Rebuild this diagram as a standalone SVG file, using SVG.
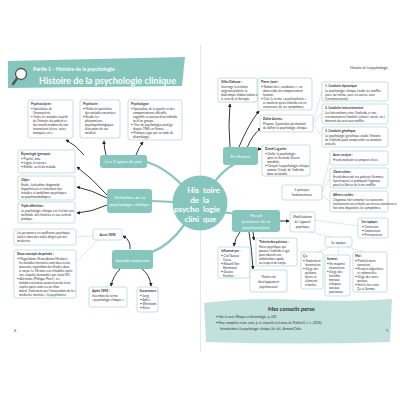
<svg xmlns="http://www.w3.org/2000/svg" width="400" height="400" viewBox="0 0 400 400">
<defs>
<marker id="ah" viewBox="0 0 6 6" refX="5" refY="3" markerWidth="4" markerHeight="4" orient="auto"><path d="M0,0 L6,3 L0,6 Z" fill="#222"/></marker>
</defs>
<style>
.box{fill:#fff;stroke:#a8d5cf;stroke-width:0.7}
.t{font-family:Lato,"Open Sans",sans-serif;font-size:3.1px;fill:#333}
.h{font-weight:700}
.pill{fill:#86c6bd}
.pt{font-family:Lato,"Open Sans",sans-serif;font-size:4.6px;fill:#fff;text-anchor:middle}
.br{fill:none;stroke:#86c6bd;stroke-width:2.2;stroke-linecap:round}
.ar{fill:none;stroke:#222;stroke-width:0.9;marker-end:url(#ah)}
.ds{fill:none;stroke:#86c6bd;stroke-width:0.6;stroke-dasharray:1.5 1.2}
.c{text-anchor:middle}
.ct{font-family:Lato,"Open Sans",sans-serif;font-size:8px;font-weight:700;fill:#fff}
</style>
<rect width="400" height="400" fill="#fff"/>
<line x1="200.5" y1="45" x2="200.5" y2="352" stroke="#e2e2e2" stroke-width="0.8"/>

<g id="header">
<path d="M8,61 L185,57 L182,86 L8,88 Z" fill="#86c6bd"/>
<circle cx="21" cy="74" r="5.5" fill="#fff" stroke="#555" stroke-width="1.3"/>
<line x1="17" y1="78.5" x2="13" y2="84" stroke="#555" stroke-width="2.4" stroke-linecap="round"/>
<text x="33" y="71" font-family="Lato,sans-serif" font-size="5.2" fill="#fff" font-weight="700">Partie 1 - Histoire de la psychologie</text>
<text x="39" y="84" font-family="Lato,sans-serif" font-size="9" fill="#fff" font-weight="700" textLength="137">Histoire de la psychologie clinique</text>
<text x="388" y="69" font-family="Lato,sans-serif" font-size="3.4" fill="#333" text-anchor="end">Histoire de la psychologie</text>
</g>

<g id="connectors">
<path class="br" d="M180,183 Q165,168 147,162"/>
<path class="br" d="M174,202 L152,201"/>
<path class="br" d="M184,225 Q170,245 152,252"/>
<path class="br" d="M216,180 Q224,170 233,165"/>
<path class="br" d="M222,212 L236,214"/>
<path class="ar" d="M84,155 Q76,145 66,140"/>
<path class="ar" d="M106,155 Q104,148 104,141"/>
<path class="ar" d="M136,155 Q139,147 143,142"/>
<path class="ar" d="M107,195 Q92,178 77,167"/>
<path class="ar" d="M107,198 Q92,190 77,187"/>
<path class="ar" d="M107,205 Q92,212 77,213"/>
<path class="ar" d="M130,249 Q131,240 123,236"/>
<path class="ar" d="M120,269 Q113,276 111,286"/>
<path class="ar" d="M142,269 Q150,275 151,286"/>
<path class="ar" d="M230,147 Q228,125 230,104"/>
<path class="ar" d="M239,147 Q248,125 259,111"/>
<path class="ar" d="M247,148 Q252,135 261,128"/>
<path class="ar" d="M255,151 Q258,149 261,149"/>
<path class="ar" d="M280,221 L289,221"/>
<path class="ar" d="M240,232 Q235,238 234,246"/>
<path class="ar" d="M253,232 L254,240"/>
<path class="ar" d="M249,232 Q252,250 253,269"/>
<path class="ds" d="M93,236 L76,237"/>
<path class="ds" d="M98,240 L76,262"/>
<path class="ds" d="M313,122 L322,91"/>
<path class="ds" d="M313,123 L322,113"/>
<path class="ds" d="M313,124 L322,137"/>
<path class="ds" d="M322,190 L330,158"/>
<path class="ds" d="M322,192 L330,178"/>
<path class="ds" d="M322,196 L330,201"/>
<path class="ds" d="M315,220 L358,226"/>
<path class="ds" d="M310,232 L330,237"/>
<path class="ds" d="M331,247 L315,253"/>
<path class="ds" d="M339,247 L338,255"/>
<path class="ds" d="M347,247 L364,252"/>
</g>

<g id="center">
<circle cx="200" cy="203" r="27.5" fill="#86c6bd"/>
<text class="ct" text-anchor="end"><tspan x="199" y="193">His</tspan><tspan x="199" y="202.5">de</tspan><tspan x="199" y="212">psycho</tspan><tspan x="199" y="221.5">clini</tspan></text>
<text class="ct"><tspan x="203" y="193">toire</tspan><tspan x="203" y="202.5">la</tspan><tspan x="203" y="212">logie</tspan><tspan x="203" y="221.5">que</tspan></text>
</g>

<g id="psychanalyste"><rect class="box" x="28" y="100" width="45" height="38" rx="2"/>
<text class="t"><tspan class="h" x="31" y="105">Psychanalyste :</tspan><tspan x="31" y="110">• Spécialiste de</tspan><tspan x="33" y="114">l'inconscient.</tspan><tspan x="31" y="118">• Traite les malades à partir</tspan><tspan x="33" y="122">de l'histoire du patient et</tspan><tspan x="33" y="126">des manifestations de son</tspan><tspan x="33" y="130">inconscient (rêves, actes</tspan><tspan x="33" y="134">manqués, etc.).</tspan></text></g>

<g id="psychiatre"><rect class="box" x="80" y="100" width="40" height="38" rx="2"/>
<text class="t"><tspan class="h" x="83" y="105">Psychiatre :</tspan><tspan x="83" y="110">• Médecin spécialiste</tspan><tspan x="85" y="114">des maladies mentales.</tspan><tspan x="83" y="118">• Étudie les</tspan><tspan x="85" y="122">phénomènes</tspan><tspan x="85" y="126">psychopathologiques</tspan><tspan x="85" y="130">d'un point de vue</tspan><tspan x="85" y="134">médical.</tspan></text></g>

<g id="psychologue"><rect class="box" x="128" y="100" width="54" height="40" rx="2"/>
<text class="t"><tspan class="h" x="131" y="105">Psychologue :</tspan><tspan x="131" y="110">• Spécialiste de la psyché et des</tspan><tspan x="133" y="114">comportements affectifs,</tspan><tspan x="133" y="118">cognitifs et sociaux d'un individu</tspan><tspan x="133" y="122">ou d'un groupe.</tspan><tspan x="131" y="126">• Titre de psychologue protégé</tspan><tspan x="133" y="130">depuis 1985 en France.</tspan><tspan x="131" y="134">• Pratique régie par un code de</tspan><tspan x="133" y="138">déontologie.</tspan></text></g>

<g id="types"><rect class="pill" x="100" y="155" width="47" height="13" rx="3"/><text class="pt" x="123.5" y="163.3">Les 3 types de psy</text></g>

<g id="etymologie"><rect class="box" x="18" y="150" width="57" height="23" rx="2"/>
<text class="t"><tspan class="h" x="21" y="155">Étymologie (grecque) :</tspan><tspan x="21" y="160">• Psyché, âme.</tspan><tspan x="21" y="164">• Logos, la science.</tspan><tspan x="21" y="168">• Klinikè, au lit du malade.</tspan></text></g>

<g id="objet"><rect class="box" x="18" y="176" width="57" height="24" rx="2"/>
<text class="t"><tspan class="h" x="21" y="181">Objet :</tspan><tspan x="21" y="186">Étude, évaluation, diagnostic</tspan><tspan x="21" y="190">(hypothèses) et traitement des</tspan><tspan x="21" y="194">troubles et problèmes psychiques</tspan><tspan x="21" y="198">ou psychosomatiques.</tspan></text></g>

<g id="triple"><rect class="box" x="18" y="202" width="57" height="21" rx="2"/>
<text class="t"><tspan class="h" x="21" y="207">Triple définition :</tspan><tspan x="21" y="212">La psychologie clinique est à la fois une</tspan><tspan x="21" y="216">méthode, des théories et une activité</tspan><tspan x="21" y="220">pratique.</tspan></text></g>

<g id="definition"><rect class="pill" x="107" y="189" width="45" height="24" rx="3"/><text class="pt"><tspan x="129.5" y="199">Définition de la</tspan><tspan x="129.5" y="205.5">psychologie clinique</tspan></text></g>

<g id="personnes"><rect class="box" x="14" y="229" width="62" height="16" rx="2"/>
<text class="t"><tspan x="17" y="234">Les personnes en souffrance psychique</tspan><tspan x="17" y="238">isolées dans des asiles dirigés par des</tspan><tspan x="17" y="242">médecins.</tspan></text></g>

<g id="concepts"><rect class="box" x="14" y="250" width="62" height="48" rx="2"/>
<text class="t"><tspan class="h" x="17" y="255">Deux concepts de pensée :</tspan><tspan x="17" y="260">• Magnétisme (Franz Anton Mesmer) :</tspan><tspan x="19" y="264">les maladies mentales sont dues à une</tspan><tspan x="19" y="268">mauvaise répartition des fluides dans</tspan><tspan x="19" y="272">le corps. Le Mesmer est réhabilité après</tspan><tspan x="19" y="276">une enquête demandée par Louis XVI.</tspan><tspan x="17" y="280">• Aliénisme (Philippe Pinel) : les</tspan><tspan x="19" y="284">malades mentaux auraient perdu leurs</tspan><tspan x="19" y="288">esprits après avoir eu un choc</tspan><tspan x="19" y="292">moral. Traitement par l'instauration de la «</tspan><tspan x="19" y="296">médecine mentale » (la psychiatrie).</tspan></text></g>

<g id="avant"><rect class="box" x="93" y="229" width="29" height="11" rx="2"/><text class="t h" x="107.5" y="236" text-anchor="middle" font-size="3.6">Avant 1890</text></g>

<g id="grands"><rect class="pill" x="112" y="250" width="41" height="19" rx="3"/><text class="pt" x="132.5" y="261.5">Grands moments</text></g>

<g id="apres"><rect class="box" x="89" y="287" width="38" height="20" rx="2"/>
<text class="t"><tspan class="h" x="92" y="292">Après 1890 :</tspan><tspan x="92" y="297">Invention du terme</tspan><tspan x="92" y="301">« psychologie clinique ».</tspan></text></g>

<g id="successeurs"><rect class="box" x="137" y="287" width="21" height="25" rx="2"/>
<text class="t"><tspan class="h" x="139.5" y="292">Successeurs :</tspan><tspan x="140" y="297">• Jung.</tspan><tspan x="140" y="301">• Adler.</tspan><tspan x="140" y="305">• Winnicott.</tspan><tspan x="140" y="309">• Klein.</tspan></text></g>

<g id="france"><rect class="pill" x="223" y="147" width="35" height="18" rx="3"/><text class="pt" x="240.5" y="158">En France</text></g>

<g id="deleuze"><rect class="box" x="218" y="78" width="39" height="24" rx="2"/>
<text class="t"><tspan class="h" x="221" y="83">Gilles Deleuze :</tspan><tspan x="221" y="88">Interroge la relation</tspan><tspan x="221" y="92">soignant/patient, la</tspan><tspan x="221" y="96">dialectique d'observation et</tspan><tspan x="221" y="100">le sens de la thérapie.</tspan></text></g>

<g id="janet"><rect class="box" x="258" y="78" width="54" height="32" rx="2"/>
<text class="t"><tspan class="h" x="261" y="83">Pierre Janet :</tspan><tspan x="261" y="88">• Notion des « conduites » : un</tspan><tspan x="263" y="92">observable du comportement</tspan><tspan x="263" y="96">humain.</tspan><tspan x="261" y="100">• Crée le terme « psychasthénie »</tspan><tspan x="263" y="104">et soutient qu'un individu est en</tspan><tspan x="263" y="108">conscience de ses symptômes.</tspan></text></g>

<g id="anzieu"><rect class="box" x="260" y="115" width="53" height="17" rx="2"/>
<text class="t"><tspan class="h" x="263" y="120">Didier Anzieu :</tspan><tspan x="263" y="125">Propose 3 postulats permettant</tspan><tspan x="263" y="129">de définir la psychologie clinique.</tspan></text></g>

<g id="lagache"><rect class="box" x="262" y="145" width="48" height="31" rx="2"/>
<text class="t"><tspan class="h" x="265" y="150">Daniel Lagache :</tspan><tspan x="265" y="155">• Unifie la psychologie</tspan><tspan x="267" y="159">après la Seconde Guerre</tspan><tspan x="267" y="163">mondiale.</tspan><tspan x="265" y="167">• Conçoit la psychologie clinique</tspan><tspan x="267" y="171">comme l'étude de l'individu</tspan><tspan x="267" y="175">dans sa totalité.</tspan></text></g>

<g id="dynamique"><rect class="box" x="322" y="82" width="66" height="19" rx="2"/>
<text class="t"><tspan class="h" x="325" y="87">1. Conduite dynamique</tspan><tspan x="325" y="92">La psychologie clinique étudie les conflits</tspan><tspan x="325" y="96">(avec soi-même, avec les autres, avec</tspan><tspan x="325" y="100">l'environnement).</tspan></text></g>

<g id="interaction"><rect class="box" x="322" y="104" width="66" height="20" rx="2"/>
<text class="t"><tspan class="h" x="325" y="109">2. Conduite interactionniste</tspan><tspan x="325" y="114">Les interactions entre l'individu et son</tspan><tspan x="325" y="118">environnement (familial, culturel, social, etc.)</tspan><tspan x="325" y="122">donnent du sens aux conflits.</tspan></text></g>

<g id="genetique"><rect class="box" x="322" y="127" width="66" height="20" rx="2"/>
<text class="t"><tspan class="h" x="325" y="132">3. Conduite génétique</tspan><tspan x="325" y="137">La psychologie génétique étudie l'histoire</tspan><tspan x="325" y="141">de l'individu pour comprendre sa conduite</tspan><tspan x="325" y="145">actuelle.</tspan></text></g>

<g id="auto"><rect class="box" x="330" y="151" width="58" height="14" rx="2"/>
<text class="t"><tspan class="h" x="333" y="156">Auto-analyse :</tspan><tspan x="333" y="161">Freud analysait ses propres rêves.</tspan></text></g>

<g id="observation"><rect class="box" x="330" y="168" width="58" height="20" rx="2"/>
<text class="t"><tspan class="h" x="333" y="173">Observation :</tspan><tspan x="333" y="178">Freud observait ses patients (femmes</tspan><tspan x="333" y="182">hystériques) et pratiquait l'hypnose</tspan><tspan x="333" y="186">pour les libérer de leurs conflits.</tspan></text></g>

<g id="affects"><rect class="box" x="330" y="191" width="58" height="21" rx="2"/>
<text class="t"><tspan class="h" x="333" y="196">Affects cachés :</tspan><tspan x="333" y="201">L'hypnose fait remonter les souvenirs</tspan><tspan x="333" y="205">inconscients ou refoulés au niveau conscient et</tspan><tspan x="333" y="209">fait ainsi disparaître les symptômes.</tspan></text></g>

<g id="principes"><rect class="box" x="282" y="185" width="40" height="15" rx="2"/>
<text class="t c" font-size="3.8"><tspan x="302" y="191">5 principes</tspan><tspan x="302" y="196">fondamentaux.</tspan></text></g>

<g id="freud"><rect class="pill" x="232" y="210" width="48" height="22" rx="3"/>
<text class="pt"><tspan x="256" y="217">Freud</tspan><tspan x="256" y="223">(créateur de la</tspan><tspan x="256" y="229">psychanalyse)</tspan></text></g>

<g id="modelisations"><rect class="box" x="290" y="212" width="25" height="20" rx="2"/>
<text class="t c" font-size="3.8"><tspan x="302.5" y="218">Modélisations</tspan><tspan x="302.5" y="223">de l'appareil</tspan><tspan x="302.5" y="228">psychique</tspan></text></g>

<g id="topique1"><rect class="box" x="358" y="218" width="30" height="20" rx="2"/>
<text class="t"><tspan class="h" x="361" y="223">1re topique :</tspan><tspan x="362" y="228">• Conscient.</tspan><tspan x="362" y="232">• Inconscient.</tspan><tspan x="362" y="236">• Préconscient.</tspan></text></g>

<g id="topique2"><rect class="box" x="325" y="237" width="27" height="10" rx="2"/>
<text class="t c" font-size="3.8" x="338.5" y="243.5">2e topique</text></g>

<g id="ca"><rect class="box" x="301" y="252" width="22" height="37" rx="2"/>
<text class="t"><tspan class="h" x="303" y="257">Ça :</tspan><tspan x="303" y="262">• Totalement</tspan><tspan x="305" y="266">inconscient.</tspan><tspan x="303" y="270">• Siège des</tspan><tspan x="305" y="274">pulsions,</tspan><tspan x="305" y="278">désirs et</tspan><tspan x="305" y="282">éléments</tspan><tspan x="305" y="286">refoulés.</tspan></text></g>

<g id="surmoi"><rect class="box" x="325" y="255" width="25" height="41" rx="2"/>
<text class="t"><tspan class="h" x="327" y="260">Surmoi :</tspan><tspan x="327" y="265">• En majorité</tspan><tspan x="329" y="269">inconscient.</tspan><tspan x="327" y="273">• Siège des</tspan><tspan x="329" y="277">interdits</tspan><tspan x="329" y="281">moraux,</tspan><tspan x="329" y="285">éthiques,</tspan><tspan x="329" y="289">sociaux,</tspan><tspan x="329" y="293">parentaux.</tspan></text></g>

<g id="moi"><rect class="box" x="353" y="252" width="34" height="40" rx="2"/>
<text class="t"><tspan class="h" x="355" y="257">Moi :</tspan><tspan x="355" y="262">• Partiellement</tspan><tspan x="357" y="266">conscient.</tspan><tspan x="355" y="270">• Pensées objectives</tspan><tspan x="357" y="274">et rationnelles.</tspan><tspan x="355" y="278">• Siège des actes</tspan><tspan x="357" y="282">sociaux.</tspan><tspan x="355" y="286">• Fait le lien entre</tspan><tspan x="357" y="290">Ça et Surmoi.</tspan></text></g>

<g id="pulsions"><rect class="box" x="256" y="238" width="41" height="28" rx="2"/>
<text class="t"><tspan class="h" x="259" y="243">Théorie des pulsions :</tspan><tspan x="259" y="248">Force psychique qui</tspan><tspan x="259" y="252">pousse l'individu à agir</tspan><tspan x="259" y="256">pour obtenir une</tspan><tspan x="259" y="260">satisfaction rapide,</tspan><tspan x="259" y="264">au respect du corps.</tspan></text></g>

<g id="influence"><rect class="box" x="218" y="247" width="32" height="31" rx="2"/>
<text class="t"><tspan class="h" x="221" y="252">Influencé par :</tspan><tspan x="221" y="257">• Carl Gustav</tspan><tspan x="223" y="261">Carus.</tspan><tspan x="221" y="265">• Eduard Von</tspan><tspan x="223" y="269">Hartmann.</tspan><tspan x="221" y="273">• Gustav</tspan><tspan x="223" y="277">Fechner.</tspan></text></g>

<g id="developpement"><rect class="box" x="250" y="270" width="37" height="22" rx="2"/>
<text class="t c" font-size="3.8"><tspan x="268.5" y="277.5">Théorie du</tspan><tspan x="268.5" y="282.5">développement</tspan><tspan x="268.5" y="287.5">psychosexuel</tspan></text></g>

<g id="conseils">
<path d="M204,303 Q250,297 300,300 Q350,302 392,299 L390,342 Q300,345 206,342 Z" fill="#c2e1dd"/>
<text x="268" y="311" font-family="Lato,sans-serif" font-size="6" font-style="italic" font-weight="700" fill="#333">Mes conseils perso</text>
<text class="t" font-size="3.7"><tspan x="216" y="318">• Voir la carte Éthique et déontologie, p. 232.</tspan><tspan x="216" y="324">• Pour compléter cette carte, je te conseille la lecture de Pedinielli, J.-L. (2016).</tspan><tspan x="220" y="330">Introduction à la psychologie clinique (4e éd.), Armand Colin.</tspan></text>
</g>

<text x="14" y="332" font-family="Lato,sans-serif" font-size="4" fill="#666">8</text>
<text x="386" y="332" font-family="Lato,sans-serif" font-size="4" fill="#666">9</text>
</svg>
